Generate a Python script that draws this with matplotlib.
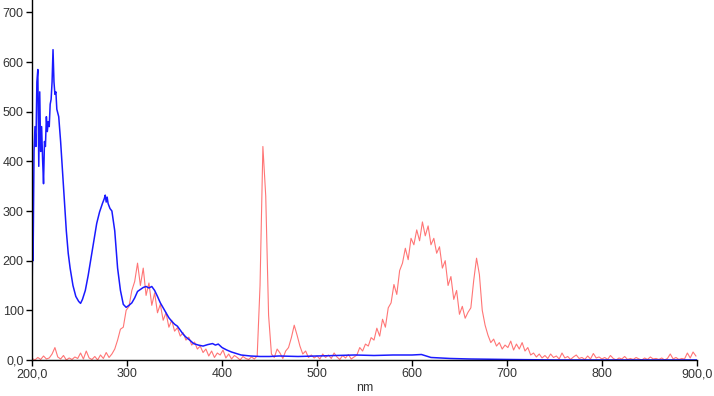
import numpy as np
import matplotlib
matplotlib.use("Agg")
import matplotlib.pyplot as plt

# -----------------------------
# data
# -----------------------------

# blue trace (irregular sampling, denser where it is noisy)
blue_nm = [200, 200.5, 201, 202, 203, 204, 205, 206, 207, 208,
           209, 210, 211, 212, 213, 214, 215, 216, 217, 218,
           219, 220, 221, 222, 223, 224, 225, 226, 228, 230,
           232, 234, 236, 238, 240, 243, 246, 249, 251, 253,
           256, 259, 262, 265, 268, 271, 274, 276, 277, 278,
           279, 280, 282, 284, 287, 290, 293, 296, 299, 302,
           305, 308, 311, 314, 317, 320, 323, 326, 329, 332,
           335, 338, 341, 344, 347, 350, 353, 356, 359, 362,
           366, 370, 375, 380, 385, 390, 393, 396, 400, 405,
           410, 415, 420, 430, 440, 450, 460, 480, 500, 520,
           540, 560, 580, 600, 610, 620, 640, 660, 700, 750,
           800, 850, 900]
blue_val = [140, 260, 200, 420, 470, 430, 560, 585, 390, 540,
            420, 470, 405, 355, 440, 430, 490, 460, 480, 470,
            515, 525, 560, 625, 560, 535, 540, 505, 490, 440,
            380, 320, 260, 215, 185, 150, 128, 118, 114, 122,
            140, 170, 205, 240, 275, 298, 315, 325, 332, 318,
            328, 315, 305, 300, 260, 185, 140, 112, 106, 110,
            115, 125, 138, 142, 146, 148, 145, 148, 140, 128,
            115, 105, 95, 85, 78, 72, 68, 60, 52, 46,
            40, 33, 30, 28, 31, 33, 30, 32, 25, 20,
            16, 13, 10, 8, 7, 7, 8, 7, 8, 9,
            10, 9, 10, 10, 11, 5, 3, 2, 1, 0,
            0, 0, 0]

# red trace, one value every 3 nm from 200 to 899
red_nm = np.arange(200, 900, 3)
red_val = [3, 0, 5, 1, 8, 2, 4, 12, 25, 6,
           2, 9, 0, 4, 1, 6, 3, 14, 2, 18,
           4, 1, 7, 0, 10, 3, 15, 5, 12, 22,
           40, 62, 66, 100, 108, 140, 158, 195, 150, 185,
           130, 155, 110, 135, 95, 112, 80, 95, 66, 80,
           58, 65, 48, 55, 40, 46, 30, 36, 22, 28,
           15, 22, 8, 18, 5, 14, 10, 20, 4, 12,
           2, 9, 5, 0, 7, 3, 1, 6, 2, 8,
           150, 430, 330, 90, 12, 5, 22, 14, 3, 18,
           25, 45, 70, 50, 28, 12, 18, 5, 10, 4,
           8, 2, 12, 5, 10, 3, 14, 6, 1, 9,
           4, 11, 2, 6, 10, 25, 18, 32, 28, 45,
           40, 64, 48, 82, 66, 105, 115, 152, 132, 180,
           195, 225, 202, 245, 232, 262, 240, 278, 250, 270,
           232, 245, 215, 228, 185, 200, 150, 168, 122, 140,
           92, 108, 84, 96, 105, 160, 205, 172, 100, 70,
           50, 35, 42, 28, 35, 22, 30, 25, 38, 20,
           32, 22, 35, 18, 25, 10, 14, 6, 12, 4,
           9, 3, 12, 5, 8, 2, 14, 4, 7, 1,
           6, 10, 3, 5, 1, 8, 2, 13, 4, 6,
           2, 5, 1, 9, 3, 0, 4, 2, 7, 1,
           3, 1, 5, 2, 0, 4, 1, 6, 2, 3,
           1, 4, 0, 3, 12, 2, 5, 1, 3, 2,
           14, 4, 16, 8]

x_ticks = [200, 300, 400, 500, 600, 700, 800, 900]
x_labels = ["200,0", "300", "400", "500", "600", "700", "800", "900,0"]
y_ticks = [0, 100, 200, 300, 400, 500, 600, 700]
y_labels = ["0,0", "100", "200", "300", "400", "500", "600", "700"]

# -----------------------------
# plot
# -----------------------------

plt.rcParams['font.family'] = ['Liberation Sans', 'DejaVu Sans']

fig = plt.figure(figsize=(7.14, 3.96), dpi=100)
ax = fig.add_axes([0.045, 0.091, 0.931, 0.909])

ax.plot(red_nm, red_val, color='#ff3b3b', lw=0.8, alpha=0.7)
ax.plot(blue_nm, blue_val, color='#1a1aff', lw=1.1)

ax.set_xlim(200, 900)
ax.set_ylim(0, 725)

ax.set_xticks(x_ticks)
ax.set_xticklabels(x_labels)
ax.set_yticks(y_ticks)
ax.set_yticklabels(y_labels)
ax.tick_params(axis='both', labelsize=9, labelcolor='#333333',
               length=4, width=1, direction='out', pad=2)

for side in ['top', 'right']:
    ax.spines[side].set_visible(False)
for side in ['left', 'bottom']:
    ax.spines[side].set_color('black')
    ax.spines[side].set_linewidth(1)

ax.set_xlabel('nm', fontsize=9, color='#333333', labelpad=1)

fig.savefig('out.png', dpi=100)
